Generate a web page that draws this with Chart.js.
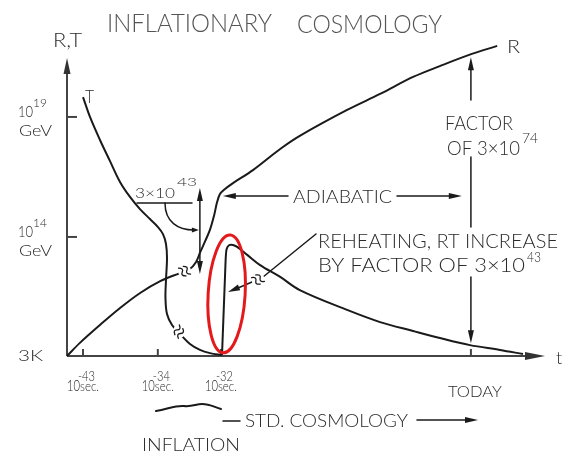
<!DOCTYPE html>
<html>
<head>
<meta charset="utf-8">
<title>Inflationary cosmology</title>
<script src="https://cdn.jsdelivr.net/npm/chart.js@4.4.1/dist/chart.umd.min.js"></script>
<style>
  html, body { margin: 0; padding: 0; background: #fff; }
  #wrap { width: 568px; height: 452px; }
</style>
</head>
<body>
<div id="wrap"><canvas id="cosmoChart" width="568" height="452"></canvas></div>
<script>
// Schematic units, not to scale: x = time, y = log of R or T.
var rCurve = [[0, 0], [2.7, 4.1], [6.9, 9.7], [11.1, 15.0], [15.3, 19.7], [19.5, 23.4], [23.6, 25.9],
  [25.7, 27.2], [27.0, 29.4], [27.8, 32.2], [28.9, 35.9], [29.9, 39.4], [30.8, 44.1], [31.4, 48.1],
  [32.0, 50.6], [32.8, 51.9], [34.5, 53.8], [38.9, 58.1], [44.6, 64.7], [48.7, 68.8], [58.6, 76.9],
  [65.5, 81.9], [72.4, 87.2], [78.0, 90.6], [84.7, 94.4], [90.0, 96.9]];

// temperature before reheating (falls through inflation)
var tCurve = [[3.35, 80.9], [4.81, 74.7], [6.90, 67.5], [9.00, 60.9], [11.09, 54.4], [13.18, 49.7],
  [15.27, 45.9], [17.36, 42.8], [19.04, 40.3], [20.08, 38.1], [20.71, 35.0], [20.92, 30.6],
  [20.71, 23.8], [20.6, 18.1], [20.92, 13.1], [21.97, 9.7], [23.64, 6.9], [25.73, 3.75],
  [27.82, 1.9], [29.92, 0.9], [32.43, 0.3]];

// reheating jump
var reheatLine = [[32.43, 0.3], [33.2, 30.6]];

// temperature after reheating (standard cooling)
var tAfter = [[33.2, 30.6], [33.4, 33.4], [33.9, 34.6], [34.7, 34.7], [35.6, 34.1], [37.7, 31.6],
  [40.4, 28.4], [44.6, 24.7], [48.7, 20.6], [58.6, 14.4], [65.5, 10.6], [72.4, 7.8], [78.0, 5.6],
  [84.3, 3.4], [90.6, 1.9], [95.4, 0.6]];

var xTickValues = [3.35, 19.0, 32.2, 84.5];
var xTickExps = ['-43', '-34', '-32', ''];
var yTickValues = [0, 37.2, 74.7];
var yTickExps = ['', '14', '19'];

var INK = '#2a2a2a';
var LINE = '#1a1a1a';
var FONT = 'Lato, "DejaVu Sans", sans-serif';

function toPts(arr) {
  return arr.map(function(p) { return { x: p[0], y: p[1] }; });
}

// linear lookup of a curve's y at a given x
function valueAt(arr, u) {
  for (var i = 1; i < arr.length; i++) {
    if (arr[i][0] >= u) {
      var a = arr[i - 1], b = arr[i];
      return a[1] + (b[1] - a[1]) * (u - a[0]) / (b[0] - a[0]);
    }
  }
  return arr[arr.length - 1][1];
}

function txt(ctx, s, x, y, size, w, color) {
  ctx.save();
  ctx.font = '300 ' + size + 'px ' + FONT;
  ctx.fillStyle = color || INK;
  ctx.textBaseline = 'alphabetic';
  ctx.textAlign = 'left';
  if (w) {
    var m = ctx.measureText(s).width;
    ctx.translate(x, y);
    ctx.scale(w / m, 1);
    ctx.fillText(s, 0, 0);
  } else {
    ctx.fillText(s, x, y);
  }
  ctx.restore();
}

function seg(ctx, x1, y1, x2, y2) {
  ctx.beginPath();
  ctx.moveTo(x1, y1);
  ctx.lineTo(x2, y2);
  ctx.stroke();
}

function arrowHead(ctx, x1, y1, x2, y2, len, half) {
  var a = Math.atan2(y2 - y1, x2 - x1);
  ctx.save();
  ctx.translate(x2, y2);
  ctx.rotate(a);
  ctx.beginPath();
  ctx.moveTo(0, 0);
  ctx.lineTo(-len, -half);
  ctx.lineTo(-len, half);
  ctx.closePath();
  ctx.fill();
  ctx.restore();
}

// little double squiggle where a curve is broken
function breakMark(ctx, px, py, ang) {
  ctx.save();
  ctx.translate(px, py);
  ctx.rotate(ang);
  ctx.strokeStyle = '#fff';
  ctx.lineWidth = 5;
  seg(ctx, -4, 0, 4, 0);
  ctx.strokeStyle = LINE;
  ctx.lineWidth = 1.3;
  [-2.5, 2.5].forEach(function(dx) {
    ctx.beginPath();
    ctx.moveTo(dx - 2, -5);
    ctx.quadraticCurveTo(dx + 3, -3, dx, 0);
    ctx.quadraticCurveTo(dx - 3, 3, dx + 2, 5);
    ctx.stroke();
  });
  ctx.restore();
}

var sketchPlugin = {
  id: 'sketch',
  beforeDatasetsDraw: function(chart) {
    var ctx = chart.ctx, xs = chart.scales.x, ys = chart.scales.y;
    var x0 = xs.getPixelForValue(0), y0 = ys.getPixelForValue(0);
    ctx.save();
    ctx.strokeStyle = '#444';
    ctx.fillStyle = '#333';
    ctx.lineWidth = 2;
    // axes with arrows
    var yTop = ys.getPixelForValue(93.1);
    seg(ctx, x0, y0, x0, yTop + 12);
    arrowHead(ctx, x0, y0, x0, yTop, 16, 3.5);
    var xEnd = xs.getPixelForValue(100);
    seg(ctx, x0, y0, xEnd - 14, y0);
    arrowHead(ctx, x0, y0, xEnd, y0, 20, 4);
    // inward ticks
    yTickValues.forEach(function(v) {
      if (v > 0) seg(ctx, x0, ys.getPixelForValue(v), x0 + 10, ys.getPixelForValue(v));
    });
    xTickValues.forEach(function(v) {
      seg(ctx, xs.getPixelForValue(v), y0, xs.getPixelForValue(v), y0 - 7);
    });
    ctx.restore();
  },
  afterDatasetsDraw: function(chart) {
    var ctx = chart.ctx, xs = chart.scales.x, ys = chart.scales.y;
    ctx.save();
    ctx.strokeStyle = LINE;
    ctx.fillStyle = LINE;
    ctx.lineCap = 'round';

    // break marks on R and T
    breakMark(ctx, xs.getPixelForValue(24.6), ys.getPixelForValue(valueAt(rCurve, 24.6)), -0.38);
    breakMark(ctx, xs.getPixelForValue(23.4), ys.getPixelForValue(valueAt(tCurve, 23.4) + 0.3), 0.81);

    // title and axis names
    txt(ctx, 'INFLATIONARY', 107, 32, 25, 165, '#555');
    txt(ctx, 'COSMOLOGY', 297, 33, 25, 145, '#555');
    txt(ctx, 'R,T', 53, 47, 20, 29);
    txt(ctx, 't', 556, 364, 18);
    txt(ctx, 'T', 85, 103, 17, 9);
    txt(ctx, 'R', 507, 53, 17, 13);

    // y tick labels
    yTickValues.forEach(function(v, i) {
      var py = ys.getPixelForValue(v);
      if (!yTickExps[i]) {
        txt(ctx, '3K', 18, py + 5, 15, 25);
        return;
      }
      txt(ctx, '10', 18, py, 16, 15);
      txt(ctx, yTickExps[i], 33, py - 10, 12, 14);
      txt(ctx, 'GeV', 19, py + 19, 16, 33);
    });

    // x tick labels
    xTickValues.forEach(function(v, i) {
      var px = xs.getPixelForValue(v);
      if (!xTickExps[i]) {
        txt(ctx, 'TODAY', px - 23, 397, 16, 54);
        return;
      }
      txt(ctx, '10', px - 16, 391, 15, 13);
      txt(ctx, xTickExps[i], px - 5, 381, 13, 17);
      txt(ctx, 'sec.', px - 3, 391, 13, 19);
    });

    // inflation brace and labels below the axis
    ctx.lineWidth = 2;
    ctx.beginPath();
    ctx.moveTo(156, 411);
    ctx.bezierCurveTo(168, 409, 176, 405, 184, 406);
    ctx.bezierCurveTo(192, 407, 196, 404, 202, 404);
    ctx.bezierCurveTo(210, 404, 214, 407, 221, 409);
    ctx.stroke();
    txt(ctx, 'INFLATION', 142, 451, 17, 98);
    ctx.lineWidth = 1.5;
    seg(ctx, 223, 421, 240, 421);
    txt(ctx, 'STD. COSMOLOGY', 245, 427, 17, 163);
    seg(ctx, 417, 420, 466, 420);
    arrowHead(ctx, 417, 420, 478, 420, 13, 3);

    // adiabatic span
    var ya = ys.getPixelForValue(50);
    var xa1 = xs.getPixelForValue(32.6), xa2 = xs.getPixelForValue(82.6);
    seg(ctx, xa1 + 10, ya, 288, ya);
    arrowHead(ctx, 288, ya, xa1, ya, 13, 3);
    txt(ctx, 'ADIABATIC', 293, 203, 17, 99);
    seg(ctx, 397, ya, xa2 - 10, ya);
    arrowHead(ctx, 397, ya, xa2, ya, 13, 3);

    // factor of 3x10^74 between R and T today
    var xt = xs.getPixelForValue(xTickValues[3]);
    var rTop = ys.getPixelForValue(valueAt(rCurve, xTickValues[3])) + 3;
    var tBot = ys.getPixelForValue(valueAt(tAfter, xTickValues[3])) - 2;
    seg(ctx, xt, 100, xt, rTop + 10);
    arrowHead(ctx, xt, 100, xt, rTop, 13, 3);
    seg(ctx, xt, 157, xt, 227);
    seg(ctx, xt, 277, xt, tBot - 10);
    arrowHead(ctx, xt, 277, xt, tBot, 13, 3);
    txt(ctx, 'FACTOR', 445, 130, 20, 68);
    txt(ctx, 'OF 3\u00d710', 447, 155, 20, 73);
    txt(ctx, '74', 522, 143, 13, 16);

    // 3x10^43 drop of T during inflation
    ctx.lineWidth = 1.5;
    var xd = xs.getPixelForValue(27.8);
    var d1 = ys.getPixelForValue(52.5), d2 = ys.getPixelForValue(25.6);
    seg(ctx, xd, d1 + 10, xd, d2 - 10);
    arrowHead(ctx, xd, d2, xd, d1, 13, 3);
    arrowHead(ctx, xd, d1, xd, d2, 13, 3);
    txt(ctx, '3\u00d710', 135, 198, 14, 40);
    txt(ctx, '43', 177, 186, 12, 20);
    seg(ctx, 137, 203, 192, 203);
    ctx.beginPath();
    ctx.moveTo(165, 203);
    ctx.bezierCurveTo(165, 222, 178, 230, 194, 230);
    ctx.stroke();
    arrowHead(ctx, 190, 230, xd - 1, 230, 7, 2.5);

    // reheating note with leader
    txt(ctx, 'REHEATING, RT INCREASE', 318, 248, 20, 240);
    txt(ctx, 'BY FACTOR OF 3\u00d710', 318, 272, 20, 207);
    txt(ctx, '43', 527, 262, 13, 14);
    ctx.lineWidth = 1.5;
    seg(ctx, 316, 234, 263, 277);
    seg(ctx, 252, 282, 238, 288);
    arrowHead(ctx, 252, 282, 228, 292, 12, 3);
    breakMark(ctx, 258, 279.5, -0.55);

    // red ring around the reheating jump
    ctx.strokeStyle = '#e3191c';
    ctx.lineWidth = 3;
    ctx.beginPath();
    ctx.ellipse(xs.getPixelForValue(33.4), ys.getPixelForValue(19.4), 18.5, 59, 0.06, 0, Math.PI * 2);
    ctx.stroke();
    ctx.restore();
  }
};

function curve(data, tension) {
  return {
    data: toPts(data),
    showLine: true,
    borderColor: LINE,
    borderWidth: 2,
    pointRadius: 0,
    tension: tension,
    fill: false,
    clip: false
  };
}

new Chart(document.getElementById('cosmoChart').getContext('2d'), {
  type: 'scatter',
  data: {
    datasets: [
      curve(rCurve, 0.35),
      curve(tCurve, 0.35),
      curve(reheatLine, 0),
      curve(tAfter, 0.35)
    ]
  },
  options: {
    responsive: false,
    animation: false,
    devicePixelRatio: 1,
    layout: { padding: { left: 67, right: 23, top: 36, bottom: 96 } },
    scales: {
      x: { type: 'linear', min: 0, max: 100, display: false },
      y: { type: 'linear', min: 0, max: 100, display: false }
    },
    plugins: { legend: { display: false }, tooltip: { enabled: false } }
  },
  plugins: [sketchPlugin]
});
</script>
</body>
</html>
